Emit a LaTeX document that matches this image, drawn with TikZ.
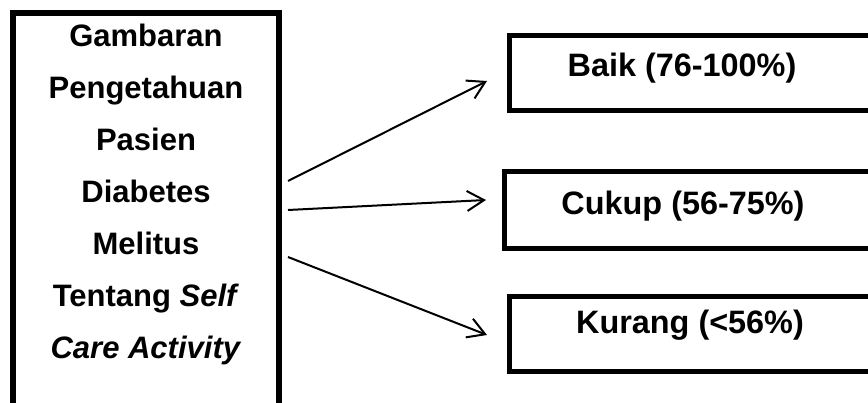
\documentclass[tikz,border=0pt]{standalone}
\usepackage{fontspec}
\setmainfont{Liberation Sans}
\usetikzlibrary{arrows.meta}
\begin{document}
\begin{tikzpicture}[x=1pt,y=-1pt,
  lbl/.style={font=\fontsize{31}{52}\selectfont\bfseries, inner sep=0pt},
  catlbl/.style={font=\fontsize{32.4}{40}\selectfont\bfseries, inner sep=0pt, anchor=base},
  srcbox/.style={draw, line width=6pt, outer sep=0pt, minimum width=266pt, minimum height=440pt, anchor=north west},
  outbox/.style={draw, line width=5pt, outer sep=0pt, minimum width=420pt, anchor=west},
  arr/.style={line width=2pt, -{Straight Barb[length=17pt,width=20pt,line width=2pt]}}]
  \useasboundingbox (0,0) rectangle (868,403);
  \clip (0,0) rectangle (868,403);

  % source box and its text
  \node[srcbox] (src) at (13,13) {};
  \node[lbl, align=center, anchor=north] (srctext) at (146,24)
    {Gambaran\\Pengetahuan\\Pasien\\Diabetes\\Melitus\\Tentang \textit{Self}\\\textit{Care Activity}};

  % category boxes
  \node[outbox, minimum height=75pt] (baik)   at (509,73.5)  {};
  \node[outbox, minimum height=77pt] (cukup)  at (504,210.5) {};
  \node[outbox, minimum height=75pt] (kurang) at (509,334.5) {};
  \node[catlbl] (baikt)   at (682,77)  {Baik (76-100\%)};
  \node[catlbl] (cukupt)  at (683,215) {Cukup (56-75\%)};
  \node[catlbl] (kurangt) at (690,334) {Kurang (<56\%)};

  % connectors
  \draw[arr] ([shift={(9,168)}]src.north east) -- ([shift={(-22,7.5)}]baik.west);
  \draw[arr] ([shift={(9,197)}]src.north east) -- ([shift={(-18,-10.5)}]cukup.west);
  \draw[arr] ([shift={(9,244)}]src.north east) -- ([shift={(-22,0.5)}]kurang.west);
\end{tikzpicture}
\end{document}
